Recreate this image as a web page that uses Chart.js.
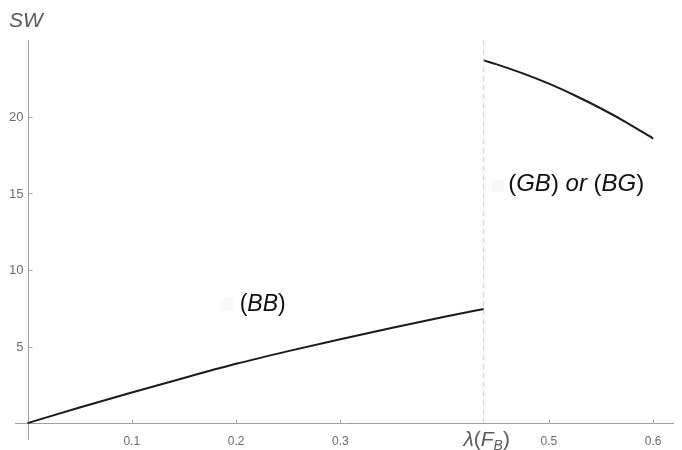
<!DOCTYPE html>
<html>
<head>
<meta charset="utf-8">
<script src="https://cdn.jsdelivr.net/npm/chart.js@4.4.0/dist/chart.umd.min.js"></script>
<style>
  html, body { margin: 0; padding: 0; background: #fff; }
  #wrap { width: 682px; height: 450px; }
</style>
</head>
<body>
<div id="wrap"><canvas id="swChart" width="682" height="450"></canvas></div>
<script>
// threshold lambda(F_B) where the equilibrium switches
const lambdaFB = 0.4375;

// (BB) branch, left of the threshold
const bbX = [0, 0.05, 0.1, 0.15, 0.2, 0.25, 0.3, 0.35, 0.4, 0.4375];
const bbY = [0, 1.02, 2.0, 2.95, 3.87, 4.7, 5.48, 6.23, 6.94, 7.45];

// (GB) or (BG) branch, right of the threshold
const gbX = [0.4375, 0.45, 0.475, 0.5, 0.525, 0.55, 0.575, 0.6];
const gbY = [23.67, 23.41, 22.82, 22.15, 21.38, 20.53, 19.6, 18.57];

// axis ticks (0.4 is replaced by the lambda(F_B) label)
const xTicks = [0.1, 0.2, 0.3, 0.5, 0.6];
const xTickLabels = ["0.1", "0.2", "0.3", "0.5", "0.6"];
const yTicks = [5, 10, 15, 20];
const yTickLabels = ["5", "10", "15", "20"];

const FONT = '"Liberation Sans", Arial, sans-serif';
const AXIS_COLOR = "#a0a0a0";
const TICK_TEXT = "#6b6b6b";

function toPoints(xs, ys) {
  return xs.map((x, i) => ({ x: x, y: ys[i] }));
}

// draws a row of text pieces with mixed styles (italic / subscript)
function drawRuns(ctx, runs, x, y, align) {
  let total = 0;
  runs.forEach(r => {
    ctx.font = (r.italic ? "italic " : "") + r.size + "px " + FONT;
    r.w = ctx.measureText(r.t).width;
    total += r.w;
  });
  let cx = align === "center" ? x - total / 2 : x;
  runs.forEach(r => {
    ctx.font = (r.italic ? "italic " : "") + r.size + "px " + FONT;
    ctx.fillText(r.t, cx, y + (r.dy || 0));
    cx += r.w;
  });
  return total;
}

const axesPlugin = {
  id: "mmaAxes",
  beforeDatasetsDraw(chart) {
    const ctx = chart.ctx;
    const xs = chart.scales.x;
    const ys = chart.scales.y;
    const area = chart.chartArea;
    const x0 = Math.round(xs.getPixelForValue(0)) + 0.5;
    const y0 = Math.round(ys.getPixelForValue(0)) + 0.5;

    ctx.save();
    ctx.strokeStyle = AXIS_COLOR;
    ctx.lineWidth = 1;
    ctx.beginPath();
    // x axis
    ctx.moveTo(area.left, y0);
    ctx.lineTo(area.right, y0);
    // y axis
    ctx.moveTo(x0, area.top);
    ctx.lineTo(x0, area.bottom);
    // x ticks pointing up
    xTicks.forEach(v => {
      const px = Math.round(xs.getPixelForValue(v)) + 0.5;
      ctx.moveTo(px, y0);
      ctx.lineTo(px, y0 - 4);
    });
    // y ticks pointing right
    yTicks.forEach(v => {
      const py = Math.round(ys.getPixelForValue(v)) + 0.5;
      ctx.moveTo(x0, py);
      ctx.lineTo(x0 + 4, py);
    });
    ctx.stroke();

    // tick labels
    ctx.fillStyle = TICK_TEXT;
    ctx.font = "12px " + FONT;
    ctx.textAlign = "center";
    ctx.textBaseline = "middle";
    xTicks.forEach((v, i) => {
      ctx.fillText(xTickLabels[i], xs.getPixelForValue(v), y0 + 18);
    });
    ctx.font = "13px " + FONT;
    ctx.textAlign = "right";
    yTicks.forEach((v, i) => {
      ctx.fillText(yTickLabels[i], x0 - 5, ys.getPixelForValue(v) + 1);
    });
    ctx.restore();
  },
  afterDraw(chart) {
    const ctx = chart.ctx;
    const xs = chart.scales.x;
    const ys = chart.scales.y;
    const y0 = ys.getPixelForValue(0);
    ctx.save();
    ctx.textBaseline = "middle";
    ctx.textAlign = "left";

    // axis titles
    ctx.fillStyle = "#5a5a5a";
    drawRuns(ctx, [{ t: "SW", italic: true, size: 21 }], 9, 21, "left");
    drawRuns(ctx, [
      { t: "\u03bb", italic: true, size: 21 },
      { t: "(", italic: false, size: 21 },
      { t: "F", italic: true, size: 21 },
      { t: "B", italic: true, size: 14, dy: 6 },
      { t: ")", italic: false, size: 21 }
    ], xs.getPixelForValue(lambdaFB) + 3, y0 + 17, "center");

    // region labels with the faint marker box in front
    const bbx = xs.getPixelForValue(0.2035);
    const bby = ys.getPixelForValue(7.72);
    ctx.fillStyle = "#f8f8f8";
    ctx.fillRect(bbx - 18, bby - 7, 12, 13);
    ctx.fillStyle = "#111";
    drawRuns(ctx, [
      { t: "(", size: 23 },
      { t: "BB", italic: true, size: 23 },
      { t: ")", size: 23 }
    ], bbx, bby, "left");

    const gbx = xs.getPixelForValue(0.461);
    const gby = ys.getPixelForValue(15.55);
    ctx.fillStyle = "#f8f8f8";
    ctx.fillRect(gbx - 16, gby - 5, 12, 12);
    ctx.fillStyle = "#111";
    drawRuns(ctx, [
      { t: "(", size: 24 },
      { t: "GB", italic: true, size: 24 },
      { t: ") ", size: 24 },
      { t: "or", italic: true, size: 24 },
      { t: " (", size: 24 },
      { t: "BG", italic: true, size: 24 },
      { t: ")", size: 24 }
    ], gbx, gby, "left");
    ctx.restore();
  }
};

const ctx = document.getElementById("swChart").getContext("2d");

new Chart(ctx, {
  type: "line",
  data: {
    datasets: [
      {
        data: toPoints([lambdaFB, lambdaFB], [0, 25]),
        borderColor: "#c9c9c9",
        borderWidth: 1,
        borderDash: [5, 4],
        pointRadius: 0
      },
      {
        data: toPoints(bbX, bbY),
        borderColor: "#1a1a1a",
        borderWidth: 2,
        pointRadius: 0,
        cubicInterpolationMode: "monotone"
      },
      {
        data: toPoints(gbX, gbY),
        borderColor: "#1a1a1a",
        borderWidth: 2,
        pointRadius: 0,
        cubicInterpolationMode: "monotone"
      }
    ]
  },
  options: {
    responsive: false,
    animation: false,
    devicePixelRatio: 1,
    layout: { padding: { left: 15, right: 8, top: 40, bottom: 10 } },
    plugins: { legend: { display: false }, tooltip: { enabled: false } },
    scales: {
      x: { type: "linear", min: -0.012, max: 0.62, display: false },
      y: { type: "linear", min: -1.1, max: 25, display: false }
    }
  },
  plugins: [axesPlugin]
});
</script>
</body>
</html>
